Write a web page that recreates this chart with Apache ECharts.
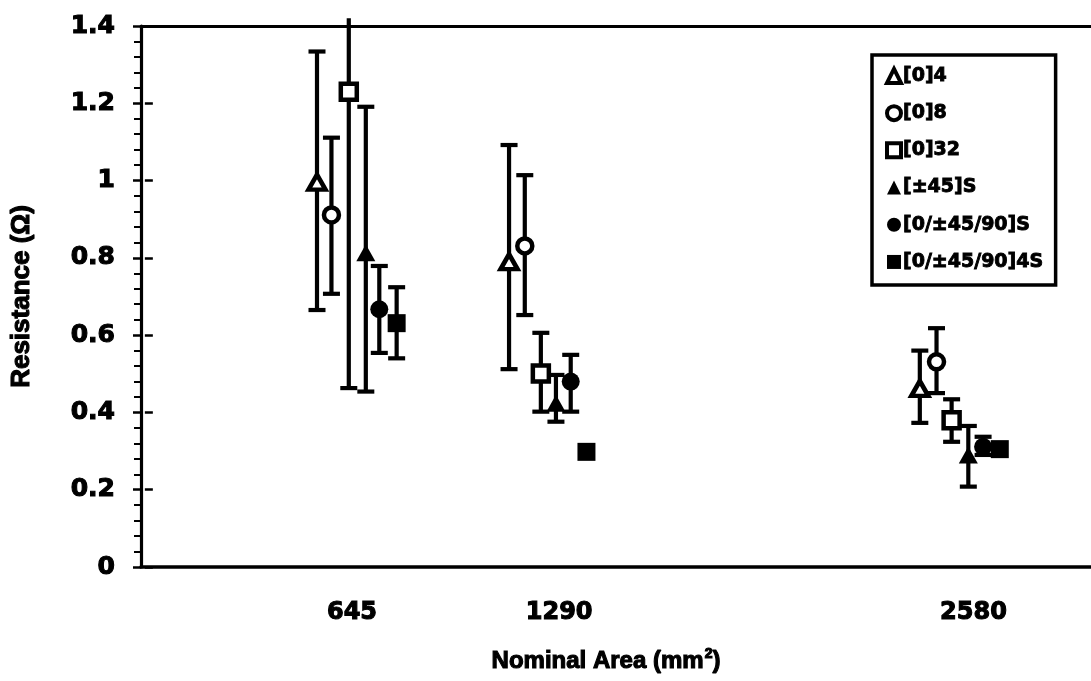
<!DOCTYPE html>
<html>
<head>
<meta charset="utf-8">
<script src="https://cdn.jsdelivr.net/npm/echarts@6/dist/echarts.min.js"></script>
<style>
  html, body { margin: 0; padding: 0; background: #fff; }
  #chart { width: 1091px; height: 681px; }
</style>
</head>
<body>
<div id="chart"></div>
<script>
// ---- data ----
const xTickValues = [645, 1290, 2580];           // labelled nominal areas (mm²)
const seriesNames = ['[0]4', '[0]8', '[0]32', '[±45]S', '[0/±45/90]S', '[0/±45/90]4S'];

// plotted x positions of each group's markers (axis units)
const x_0_4      = [536, 1134, 2413];
const x_0_8      = [581, 1183, 2465];
const x_0_32     = [635, 1233, 2512];
const x_pm45S    = [688, 1280, 2564];
const x_q_S      = [730, 1326, 2610];
const x_q_4S     = [784, 1375, 2662];

// mean resistance (Ω)
const y_0_4      = [0.996, 0.790, 0.462];
const y_0_8      = [0.911, 0.831, 0.531];
const y_0_32     = [1.230, 0.501, 0.380];
const y_pm45S    = [0.813, 0.424, 0.290];
const y_q_S      = [0.667, 0.480, 0.311];
const y_q_4S     = [0.631, 0.298, 0.305];

// error bar upper / lower ends (Ω); null = no bar
const hi_0_4     = [1.334, 1.092, 0.560];
const lo_0_4     = [0.665, 0.512, 0.373];
const hi_0_8     = [1.111, 1.014, 0.618];
const lo_0_8     = [0.707, 0.652, 0.450];
const hi_0_32    = [1.420, 0.606, 0.434];
const lo_0_32    = [0.463, 0.402, 0.324];
const hi_pm45S   = [1.191, 0.497, 0.365];
const lo_pm45S   = [0.454, 0.376, 0.208];
const hi_q_S     = [0.779, 0.549, 0.337];
const lo_q_S     = [0.554, 0.402, 0.290];
const hi_q_4S    = [0.724, null, null];
const lo_q_4S    = [0.540, null, null];

// ---- build chart ----
const xs  = [x_0_4, x_0_8, x_0_32, x_pm45S, x_q_S, x_q_4S];
const ys  = [y_0_4, y_0_8, y_0_32, y_pm45S, y_q_S, y_q_4S];
const his = [hi_0_4, hi_0_8, hi_0_32, hi_pm45S, hi_q_S, hi_q_4S];
const los = [lo_0_4, lo_0_8, lo_0_32, lo_pm45S, lo_q_S, lo_q_4S];

const Y_MAX = 1.4;
const symbols = ['triangle', 'circle', 'rect', 'triangle', 'circle', 'rect'];
const filled  = [false, false, false, true, true, true];
const sizes   = [[17, 15], 15, 16, [19, 17], 18, 18];

const errData = [];
xs.forEach((arr, s) => arr.forEach((x, i) => {
  if (his[s][i] != null && los[s][i] != null) errData.push([x, los[s][i], his[s][i]]);
}));

const FONT = 'DejaVu Sans';
const NAMEFONT = 'Liberation Sans';
const HEAVY = { textBorderColor: '#000', textBorderWidth: 1.1 };

function styleFor(s, bw) {
  return filled[s]
    ? { color: '#000', borderColor: '#000', borderWidth: 0, opacity: 1 }
    : { color: '#fff', borderColor: '#000', borderWidth: bw, opacity: 1 };
}

const series = [{
  name: 'errbars',
  type: 'custom',
  clip: false,
  z: 1,
  silent: true,
  data: errData,
  renderItem: function (params, api) {
    const x = api.value(0), lo = api.value(1), hi = api.value(2);
    const pLo = api.coord([x, lo]);
    const pHi = api.coord([x, hi]);
    const half = 8.5;
    const st = { stroke: '#000', lineWidth: 4.2 };
    const ch = [
      { type: 'line', shape: { x1: pLo[0], y1: pLo[1], x2: pHi[0], y2: pHi[1] }, style: st },
      { type: 'line', shape: { x1: pLo[0] - half, y1: pLo[1], x2: pLo[0] + half, y2: pLo[1] }, style: st }
    ];
    if (hi <= Y_MAX) {
      ch.push({ type: 'line', shape: { x1: pHi[0] - half, y1: pHi[1], x2: pHi[0] + half, y2: pHi[1] }, style: st });
    }
    return { type: 'group', children: ch };
  }
}];

seriesNames.forEach((name, s) => {
  series.push({
    name: name,
    type: 'scatter',
    z: 3,
    symbol: symbols[s],
    symbolSize: sizes[s],
    data: xs[s].map((x, i) => [x, ys[s][i]]),
    itemStyle: styleFor(s, 4.5),
    emphasis: { disabled: true }
  });
});

const chart = echarts.init(document.getElementById('chart'), null, { renderer: 'canvas' });
chart.setOption({
  animation: false,
  backgroundColor: '#fff',
  grid: { left: 141, right: 0, top: 26, bottom: 114, containLabel: false },
  legend: {
    data: seriesNames.map((n, s) => ({
      name: n,
      icon: symbols[s],
      itemStyle: styleFor(s, 4)
    })),
    orient: 'vertical',
    left: 872,
    top: 55,
    padding: [11, 12, 13, 13],
    itemGap: 17.3,
    itemWidth: 14,
    itemHeight: 14,
    borderColor: '#000',
    borderWidth: 3.5,
    backgroundColor: '#fff',
    selectedMode: false,
    textStyle: { fontFamily: FONT, fontWeight: 'bold', fontSize: 19, color: '#000', padding: [0, 0, 0, -3], textBorderColor: '#000', textBorderWidth: 0.9 }
  },
  xAxis: [{
    type: 'value',
    min: -12,
    max: 2946,
    position: 'bottom',
    axisLine: { show: true, onZero: false, lineStyle: { color: '#000', width: 3.5 } },
    axisTick: { show: false },
    splitLine: { show: false },
    axisLabel: Object.assign({
      customValues: xTickValues,
      formatter: v => String(v),
      margin: 34,
      fontFamily: FONT, fontWeight: 'bold', fontSize: 24, color: '#000'
    }, HEAVY),
    name: '{a|Nominal Area (mm}{s|2}{a|)}',
    nameLocation: 'middle',
    nameGap: 80,
    nameTextStyle: {
      padding: [0, 20, 0, 0],
      rich: {
        a: Object.assign({ fontFamily: NAMEFONT, fontWeight: 'bold', fontSize: 24, color: '#000' }, HEAVY),
        s: Object.assign({ fontFamily: NAMEFONT, fontWeight: 'bold', fontSize: 14, color: '#000', verticalAlign: 'top', padding: [0, 0, 14, 1] }, HEAVY)
      }
    }
  }, {
    type: 'value',
    min: -12,
    max: 2946,
    position: 'top',
    axisLine: { show: true, onZero: false, lineStyle: { color: '#000', width: 3 } },
    axisTick: { show: false },
    axisLabel: { show: false },
    splitLine: { show: false }
  }],
  yAxis: [{
    type: 'value',
    min: 0,
    max: 1.4,
    interval: 0.2,
    position: 'left',
    axisLine: { show: true, onZero: false, lineStyle: { color: '#000', width: 3.2 } },
    axisTick: { show: true, inside: false, length: 8, lineStyle: { color: '#000', width: 2.5 } },
    minorTick: { show: true, splitNumber: 5, length: 7, lineStyle: { color: '#000', width: 2 } },
    splitLine: { show: false },
    minorSplitLine: { show: false },
    axisLabel: Object.assign({ margin: 26, fontFamily: FONT, fontWeight: 'bold', fontSize: 25, color: '#000' }, HEAVY),
    name: 'Resistance (Ω)',
    nameLocation: 'middle',
    nameRotate: 90,
    nameGap: 106,
    nameTextStyle: Object.assign({ fontFamily: NAMEFONT, fontWeight: 'bold', fontSize: 26, color: '#000' }, HEAVY)
  }, {
    type: 'value',
    min: 0,
    max: 1.4,
    interval: 0.2,
    position: 'left',
    axisLine: { show: false },
    axisTick: { show: true, inside: true, length: 8, lineStyle: { color: '#000', width: 2.5 } },
    axisLabel: { show: false },
    splitLine: { show: false }
  }],
  series: series
});
</script>
</body>
</html>
